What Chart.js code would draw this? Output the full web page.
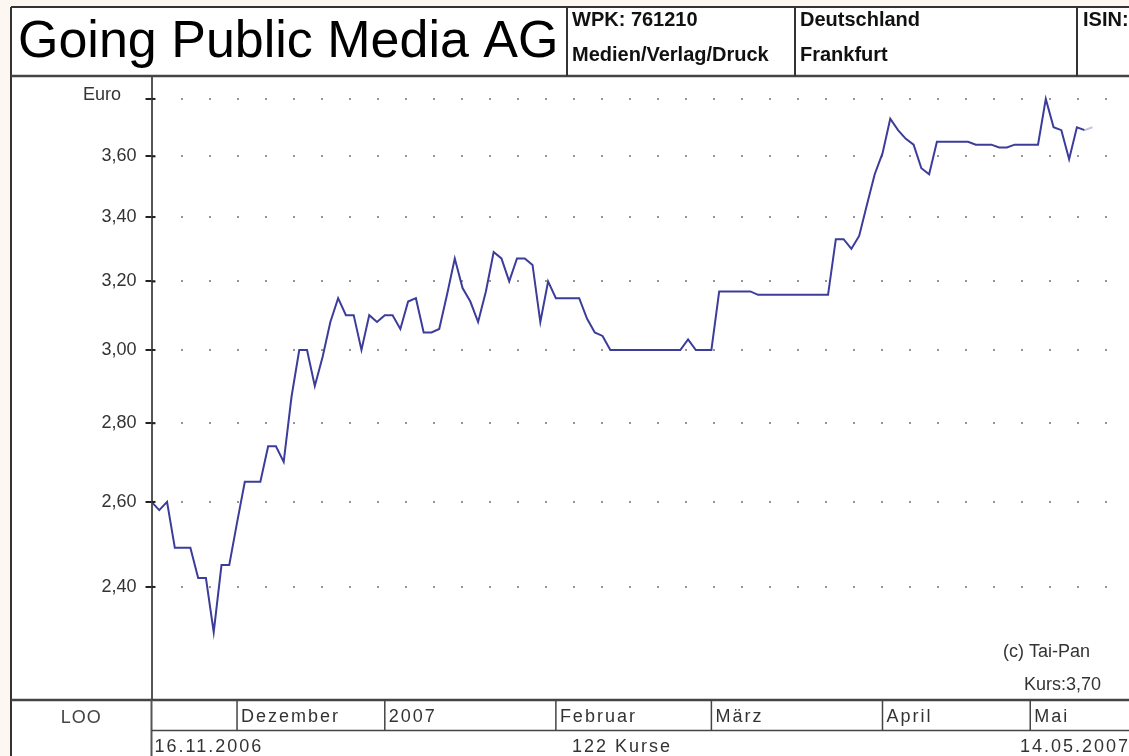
<!DOCTYPE html>
<html>
<head>
<meta charset="utf-8">
<script src="https://cdn.jsdelivr.net/npm/chart.js@4.4.1/dist/chart.umd.min.js"></script>
<style>
  html, body { margin: 0; padding: 0; background: #fcf8f1; }
  #kurs { display: block; }
</style>
</head>
<body>
<canvas id="kurs" width="1129" height="756"></canvas>
<script>
// Tagesschlusskurse 16.11.2006 - 14.05.2007 (122 Kurse)
const prices = [
  2.60, 2.58, 2.60, 2.49, 2.49, 2.49, 2.42, 2.42, 2.30, 2.45,
  2.45, 2.55, 2.65, 2.65, 2.65, 2.74, 2.74, 2.70, 2.87, 3.00,
  3.00, 2.90, 2.98, 3.08, 3.15, 3.10, 3.10, 3.00, 3.10, 3.08,
  3.10, 3.10, 3.06, 3.14, 3.15, 3.05, 3.05, 3.06, 3.16, 3.27,
  3.18, 3.14, 3.08, 3.17, 3.29, 3.27, 3.20, 3.27, 3.27, 3.25,
  3.08, 3.20, 3.15, 3.15, 3.15, 3.15, 3.09, 3.05, 3.04, 3.00,
  3.00, 3.00, 3.00, 3.00, 3.00, 3.00, 3.00, 3.00, 3.00, 3.03,
  3.00, 3.00, 3.00, 3.17, 3.17, 3.17, 3.17, 3.17, 3.16, 3.16,
  3.16, 3.16, 3.16, 3.16, 3.16, 3.16, 3.16, 3.16, 3.33, 3.33,
  3.30, 3.34, 3.44, 3.54, 3.61, 3.73, 3.69, 3.66, 3.64, 3.56,
  3.54, 3.65, 3.65, 3.65, 3.65, 3.65, 3.64, 3.64, 3.64, 3.63,
  3.63, 3.64, 3.64, 3.64, 3.64, 3.80, 3.70, 3.69, 3.59, 3.70,
  3.69, 3.70
];
const yTicks = [2.4, 2.6, 2.8, 3.0, 3.2, 3.4, 3.6, 3.8];
const monthStarts = [11, 30, 52, 72, 94, 113];
const monthLabels = ['Dezember', '2007', 'Februar', 'März', 'April', 'Mai'];
const firstDate = '16.11.2006';
const lastDate = '14.05.2007';
const title = 'Going Public Media AG';
const headerInfo = [['WPK: 761210', 'Medien/Verlag/Druck'], ['Deutschland', 'Frankfurt'], ['ISIN:', '']];

const SANS = "'Liberation Sans', Arial, sans-serif";
const AXIS_X = 151.5, TOP = 76, BOTTOM = 700;

function line(g, x1, y1, x2, y2, w, col) {
    g.beginPath();
    g.lineWidth = w;
    g.strokeStyle = col;
    g.moveTo(x1, y1);
    g.lineTo(x2, y2);
    g.stroke();
}

function text(g, s, x, y, font, col, align, spacing) {
    g.font = font;
    g.fillStyle = col;
    g.textAlign = align || 'left';
    g.textBaseline = 'alphabetic';
    g.letterSpacing = spacing || '0px';
    g.fillText(s, x, y);
    g.letterSpacing = '0px';
}

const framePlugin = {
    id: 'frame',
    beforeDraw(c) {
        const g = c.ctx;
        g.save();
        g.fillStyle = '#fcf8f1';
        g.fillRect(0, 0, c.width, c.height);
        g.fillStyle = '#ffffff';
        g.fillRect(11, 7, c.width - 11, c.height - 7);
        g.restore();
    },
    afterDraw(c) {
        const g = c.ctx, xs = c.scales.x, ys = c.scales.y;
        const W = c.width, H = c.height;
        g.save();

        // Kopfzeile
        line(g, 11, 7, W, 7, 2, '#333');
        line(g, 11, 7, 11, H, 2, '#333');
        line(g, 11, TOP, W, TOP, 2.5, '#444');
        [567, 795, 1077].forEach(x => line(g, x, 7, x, TOP, 2, '#333'));
        text(g, title, 18, 57, '52px ' + SANS, '#000');
        const infoX = [572, 800, 1083];
        headerInfo.forEach((rows, i) => {
            text(g, rows[0], infoX[i], 26, 'bold 20px ' + SANS, '#111');
            text(g, rows[1], infoX[i], 61, 'bold 20px ' + SANS, '#111');
        });

        // kleine Striche rechts der Achse
        yTicks.forEach(v => {
            const py = ys.getPixelForValue(v);
            line(g, AXIS_X, py, AXIS_X + 4, py, 2, '#222');
        });

        // Achsenbeschriftung oben
        text(g, 'Euro', 83, ys.getPixelForValue(3.8) + 1, '18px ' + SANS, '#333');
        text(g, '(c) Tai-Pan', 1090, 657, '18px ' + SANS, '#333', 'right');
        const last = prices[prices.length - 1].toFixed(2).replace('.', ',');
        text(g, 'Kurs:' + last, 1101, 690, '18px ' + SANS, '#333', 'right');

        // Fusszeile mit Monaten
        line(g, 11, BOTTOM, W, BOTTOM, 2.5, '#444');
        line(g, AXIS_X, BOTTOM, AXIS_X, H, 2, '#555');
        line(g, AXIS_X, 730.5, W, 730.5, 1.5, '#444');
        text(g, 'LOO', (11 + AXIS_X) / 2, 723, '18px ' + SANS, '#444', 'center', '1px');
        monthStarts.forEach((idx, i) => {
            const px = xs.getPixelForValue(idx);
            line(g, px, BOTTOM, px, 730.5, 1.5, '#444');
            text(g, monthLabels[i], px + 4, 722, '18px ' + SANS, '#333', 'left', '2px');
        });
        const x0 = xs.getPixelForValue(0), x1 = xs.getPixelForValue(prices.length - 1);
        text(g, firstDate, AXIS_X + 3, 752, '18px ' + SANS, '#333', 'left', '2px');
        text(g, prices.length + ' Kurse', (x0 + x1) / 2, 752, '18px ' + SANS, '#333', 'center', '2px');
        text(g, lastDate, W + 1, 752, '18px ' + SANS, '#333', 'right', '2px');

        g.restore();
    }
};

const ctx = document.getElementById('kurs').getContext('2d');
const lastIdx = prices.length - 1;

window.kursChart = new Chart(ctx, {
    type: 'line',
    data: {
        datasets: [{
            data: prices.map((v, i) => ({ x: i, y: v })),
            borderColor: '#3c3c9a',
            borderWidth: 2,
            pointRadius: 0,
            tension: 0,
            segment: {
                borderColor: s => s.p1DataIndex === lastIdx ? '#c4c4de' : undefined
            }
        }]
    },
    options: {
        responsive: false,
        animation: false,
        devicePixelRatio: 1,
        layout: { padding: { top: TOP, bottom: 756 - BOTTOM, left: 0, right: 0 } },
        plugins: {
            legend: { display: false },
            tooltip: { enabled: false }
        },
        scales: {
            x: {
                type: 'linear',
                display: false,
                min: 0,
                max: 125.7
            },
            y: {
                type: 'logarithmic',
                bounds: 'data',
                min: 2.1576,
                max: 3.883,
                afterBuildTicks: s => { s.ticks = yTicks.map(v => ({ value: v })); },
                afterFit: s => { s.width = AXIS_X; },
                ticks: {
                    autoSkip: false,
                    padding: 9,
                    color: '#333',
                    font: { family: SANS, size: 18 },
                    callback: v => v > 3.79 ? '' : Number(v).toFixed(2).replace('.', ',')
                },
                grid: {
                    color: '#959595',
                    lineWidth: 2,
                    tickLength: 6,
                    tickColor: '#222',
                    tickWidth: 2
                },
                border: {
                    display: true,
                    color: '#555',
                    width: 2,
                    dash: [2, 26]
                }
            }
        }
    },
    plugins: [framePlugin]
});
</script>
</body>
</html>
